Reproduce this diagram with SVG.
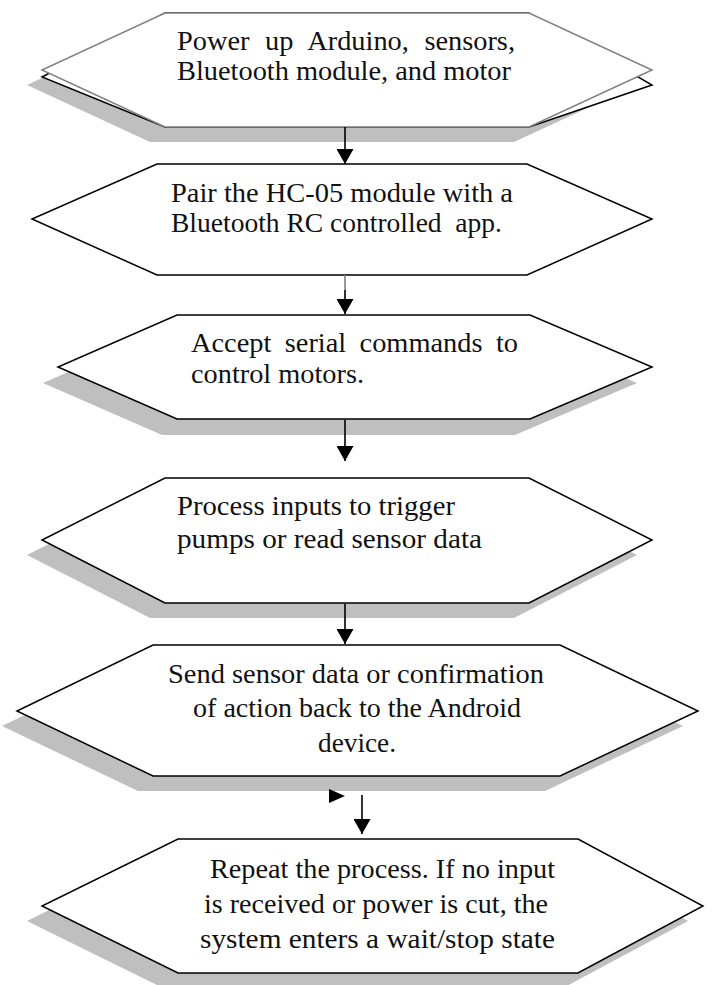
<svg xmlns="http://www.w3.org/2000/svg" width="722" height="985" viewBox="0 0 722 985">
<defs>
<style>
.hex{fill:#ffffff;stroke:#000000;stroke-width:1.5;stroke-linejoin:miter}
.hexg{fill:#ffffff;stroke:#808080;stroke-width:1.5}
.shadow{fill:#bfbfbf;stroke:none}
.t{font-family:"Liberation Serif","Times New Roman",serif;font-size:27px;fill:#111111}
.conn{stroke:#000000;stroke-width:1.6;fill:none}
.head{fill:#000000}
</style>
<marker id="arr" markerUnits="userSpaceOnUse" markerWidth="15" markerHeight="17" refX="15" refY="8.5" orient="auto">
<path class="head" d="M0,0 L15,8.5 L0,17 Z"/>
</marker>
</defs>
<rect width="722" height="985" fill="#ffffff"/>

<g id="node1">
<polygon class="shadow" points="165,13 529,13 652,70 529,127 165,127 42,70" transform="translate(-15,15)"/>
<polygon class="hex" points="165,13 529,13 652,85 529,127 165,127 42,77"/>
<polygon class="hexg" points="165,13 529,13 652,70 529,127 165,127 42,70"/>
<text class="t" x="177" y="50" word-spacing="8" textLength="338" lengthAdjust="spacingAndGlyphs">Power up Arduino, sensors,</text>
<text class="t" x="177" y="80" textLength="334" lengthAdjust="spacingAndGlyphs">Bluetooth module, and motor</text>
</g>

<g id="node2">
<polygon class="hex" points="157,164 527,164 652,219 527,275 157,275 32,219"/>
<text class="t" x="171" y="202" textLength="342" lengthAdjust="spacingAndGlyphs">Pair the HC-05 module with a</text>
<text class="t" x="171" y="232" textLength="331" lengthAdjust="spacingAndGlyphs" style="white-space:pre">Bluetooth RC controlled  app.</text>
</g>

<g id="node3">
<polygon class="shadow" points="177,315 530,315 652,367 530,419 177,419 58,367" transform="translate(-15,16)"/>
<polygon class="hex" points="177,315 530,315 652,367 530,419 177,419 58,367"/>
<text class="t" x="191" y="352" word-spacing="6" textLength="327" lengthAdjust="spacingAndGlyphs">Accept serial commands to</text>
<text class="t" x="191" y="383" textLength="173" lengthAdjust="spacingAndGlyphs">control motors.</text>
</g>

<g id="node4">
<polygon class="shadow" points="165,478 529,478 652,540 529,603 165,603 42,540" transform="translate(-15,15)"/>
<polygon class="hex" points="165,478 529,478 652,540 529,603 165,603 42,540"/>
<text class="t" x="177" y="515" textLength="278" lengthAdjust="spacingAndGlyphs">Process inputs to trigger</text>
<text class="t" x="177" y="548" textLength="305" lengthAdjust="spacingAndGlyphs">pumps or read sensor data</text>
</g>

<g id="node5">
<polygon class="shadow" points="153,645 560,645 698,711 560,776 153,776 17,711" transform="translate(-15,15)"/>
<polygon class="hex" points="153,645 560,645 698,711 560,776 153,776 17,711"/>
<text class="t" x="168" y="683" textLength="376" lengthAdjust="spacingAndGlyphs">Send sensor data or confirmation</text>
<text class="t" x="193" y="717" textLength="328" lengthAdjust="spacingAndGlyphs">of action back to the Android</text>
<text class="t" x="318" y="752" textLength="78" lengthAdjust="spacingAndGlyphs">device.</text>
</g>

<g id="node6">
<polygon class="shadow" points="178,839 578,839 703,906 578,973 178,973 42,906" transform="translate(-15,15)"/>
<polygon class="hex" points="178,839 578,839 703,906 578,973 178,973 42,906"/>
<text class="t" x="210" y="878" textLength="345" lengthAdjust="spacingAndGlyphs">Repeat the process. If no input</text>
<text class="t" x="204" y="913" textLength="344" lengthAdjust="spacingAndGlyphs">is received or power is cut, the</text>
<text class="t" x="200" y="948" textLength="355" lengthAdjust="spacingAndGlyphs">system enters a wait/stop state</text>
</g>

<g id="connectors">
<line class="conn" x1="345" y1="127" x2="345" y2="164" marker-end="url(#arr)"/>
<line x1="345" y1="275" x2="345" y2="290" stroke="#808080" stroke-width="1.6"/>
<line class="conn" x1="345" y1="290" x2="345" y2="314" marker-end="url(#arr)"/>
<line class="conn" x1="345" y1="420" x2="345" y2="461" marker-end="url(#arr)"/>
<line class="conn" x1="345" y1="604" x2="345" y2="644" marker-end="url(#arr)"/>
<line class="conn" x1="362" y1="795" x2="362" y2="834" marker-end="url(#arr)"/>
<polygon class="head" points="329,789 345,796 329,803"/>
</g>
</svg>
